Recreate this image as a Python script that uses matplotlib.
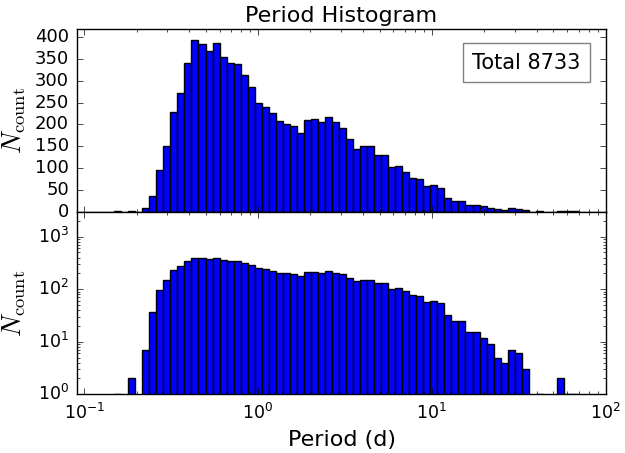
#!/usr/bin/env python3
"""Period histogram: linear (top) and log (bottom) counts over log-spaced bins."""
import numpy as np
import matplotlib
matplotlib.use("Agg")
import matplotlib.pyplot as plt

plt.style.use("classic")

# bin range in days (log-spaced bins) and counts
P_MIN = 0.1486
P_MAX = 69.2
N_BINS = 66
counts = [
    1, 0, 2, 0, 7, 36, 95, 150, 228, 272,
    342, 394, 386, 368, 388, 355, 342, 338, 313, 286,
    249, 240, 226, 207, 200, 196, 180, 210, 213, 206,
    218, 205, 193, 166, 144, 150, 151, 129, 129, 102,
    104, 91, 78, 74, 58, 60, 54, 32, 25, 25,
    15, 15, 12, 9, 5, 4, 7, 6, 3, 0,
    1, 0, 0, 2, 1, 1,
]
total_label = "Total 8733"

edges = np.logspace(np.log10(P_MIN), np.log10(P_MAX), N_BINS + 1)
counts = np.array(counts)
keep = counts > 0
left = edges[:-1][keep]
width = np.diff(edges)[keep]
h = counts[keep]

fig = plt.figure(figsize=(6.25, 4.53), dpi=100, facecolor="white")
ax1 = fig.add_axes([0.1237, 0.5331, 0.8454, 0.4035])
ax2 = fig.add_axes([0.1237, 0.1296, 0.8454, 0.4035], sharex=ax1)

for ax in (ax1, ax2):
    ax.bar(left, h, width=width, align="edge", color="b",
           edgecolor="k", linewidth=1.0)
    ax.set_xscale("log")
    ax.tick_params(which="major", pad=6)
    ax.set_ylabel(r"$N_{\rm count}$", fontsize=19)
    ax.yaxis.set_label_coords(-0.093, 0.5)

ax1.set_ylim(0, 420)
ax1.set_yticks(np.arange(0, 401, 50))
ax1.tick_params(axis="y", labelsize=13)
ax1.tick_params(labelbottom=False)
ax1.set_title("Period Histogram", fontsize=16, pad=5)
ax1.text(0.85, 0.815, total_label, transform=ax1.transAxes, fontsize=15,
         ha="center", va="center",
         bbox=dict(boxstyle="square,pad=0.45", fc="white", ec="0.5", lw=1.0))

ax2.set_yscale("log")
ax2.set_ylim(1, 3000)
ax2.set_xlim(0.0912, 100)
ax2.tick_params(labelsize=12.5)
ax2.set_xlabel("Period (d)", fontsize=16)

fig.savefig("out.png", dpi=100, facecolor="white")
